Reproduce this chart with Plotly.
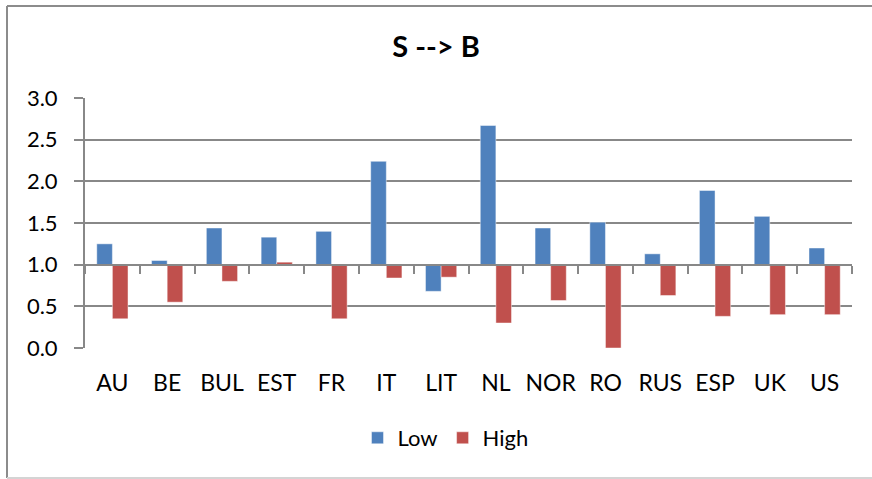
import plotly.graph_objects as go

categories = ["AU", "BE", "BUL", "EST", "FR", "IT", "LIT", "NL", "NOR", "RO", "RUS", "ESP", "UK", "US"]
low_values = [1.25, 1.05, 1.44, 1.33, 1.40, 2.24, 0.68, 2.67, 1.44, 1.51, 1.13, 1.89, 1.58, 1.20]
high_values = [0.35, 0.55, 0.80, 1.03, 0.35, 0.84, 0.85, 0.30, 0.57, 0.00, 0.63, 0.38, 0.40, 0.40]
y_ticks = [0.0, 0.5, 1.0, 1.5, 2.0, 2.5, 3.0]
BASE = 1.0
Y_MIN, Y_MAX = 0.0, 3.0

FONT = "Lato"
GRID = "#888888"

W, H = 872, 479
ML, MR, MT, MB = 85, 20, 98, 131
PW, PH = W - ML - MR, H - MT - MB


def px_x(p):
    return (p - ML) / PW


def px_y(p):
    return (H - MB - p) / PH


fig = go.Figure()
fig.add_trace(go.Bar(
    x=categories, y=[v - BASE for v in low_values], base=BASE, name="Low",
    marker=dict(color="#4F81BD", line=dict(color="rgba(255,255,255,0.45)", width=1)),
))
fig.add_trace(go.Bar(
    x=categories, y=[v - BASE for v in high_values], base=BASE, name="High",
    marker=dict(color="#C0504D", line=dict(color="rgba(255,255,255,0.45)", width=1)),
))
# invisible helper trace to build the crossing axis at the base value
fig.add_trace(go.Scatter(
    x=categories, y=[BASE] * len(categories), xaxis="x2", yaxis="y",
    mode="markers", marker=dict(opacity=0), showlegend=False, hoverinfo="skip",
))

cross_pos = (BASE - Y_MIN) / (Y_MAX - Y_MIN)
x_range = [-0.5, len(categories) - 0.5]

fig.update_layout(
    width=W, height=H,
    paper_bgcolor="white", plot_bgcolor="white",
    margin=dict(l=ML, r=MR, t=MT, b=MB, autoexpand=False),
    title=dict(text="<b>S --> B</b>", x=0.5, xanchor="center", y=0.902, yanchor="middle",
               font=dict(family=FONT, size=29, color="black")),
    font=dict(family=FONT, color="black"),
    barmode="group", bargap=0.43, bargroupgap=0.0,
    showlegend=True,
    legend=dict(orientation="h", x=0.47, xanchor="center", y=-0.36, yanchor="middle",
                font=dict(family=FONT, size=22, color="black"),
                traceorder="normal"),
    xaxis=dict(
        type="category", categoryorder="array", categoryarray=categories,
        range=x_range, fixedrange=True,
        showline=False, ticks="", showgrid=False,
        tickfont=dict(family=FONT, size=23, color="black"),
        ticklabelstandoff=19,
    ),
    xaxis2=dict(
        type="category", categoryorder="array", categoryarray=categories,
        range=x_range, fixedrange=True,
        overlaying="x", anchor="free", position=cross_pos,
        showline=True, linecolor=GRID, linewidth=2,
        ticks="outside", tickson="boundaries", ticklen=8, tickcolor=GRID, tickwidth=2,
        showticklabels=False, showgrid=False,
    ),
    yaxis=dict(
        range=[Y_MIN, Y_MAX], tickvals=y_ticks, tickformat=".1f", fixedrange=True,
        showgrid=True, gridcolor=GRID, gridwidth=2,
        zeroline=False,
        showline=True, linecolor=GRID, linewidth=2,
        ticks="outside", ticklen=9, tickcolor=GRID, tickwidth=2,
        tickfont=dict(family=FONT, size=22, color="black"),
        ticklabelstandoff=12,
    ),
    shapes=[
        dict(type="line", xref="paper", yref="paper", x0=px_x(7), x1=px_x(7), y0=px_y(6), y1=px_y(478),
             line=dict(color="#8c8c8c", width=2)),
        dict(type="line", xref="paper", yref="paper", x0=px_x(7), x1=px_x(872), y0=px_y(6), y1=px_y(6),
             line=dict(color="#8c8c8c", width=2)),
        dict(type="line", xref="paper", yref="paper", x0=px_x(7), x1=px_x(872), y0=px_y(478), y1=px_y(478),
             line=dict(color="#d4d4d4", width=2)),
    ],
)

fig.write_html("out.html", config={"displayModeBar": False},
               post_script="document.body.style.margin='0';")
